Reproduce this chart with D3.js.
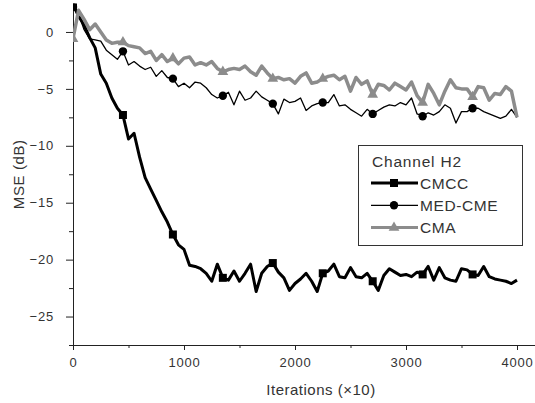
<!DOCTYPE html>
<html>
<head>
<meta charset="utf-8">
<script src="https://cdn.jsdelivr.net/npm/d3@7"></script>
<style>
  body { margin: 0; background: #fff; }
  svg { display: block; font-family: 'Liberation Sans', Arial, sans-serif; }
  .axis text { fill: #333; font-size: 13px; letter-spacing: 0.8px; }
  .axis path, .axis line { stroke: #222; }
</style>
</head>
<body>
<svg id="chart"></svg>
<script>
// X-Axis: Iterations (x10), sampled every 50
// Y-Axis: MSE in dB
const iterations = d3.range(0, 4001, 50);

const cmcc = [
  2.4, 1.4, 0.6, -0.5, -1.4, -3.7, -4.5, -5.8, -6.7, -7.3,
  -9.4, -8.9, -11.0, -12.8, -13.8, -14.8, -15.8, -16.7, -17.8, -18.7,
  -19.1, -20.5, -20.6, -20.8, -21.2, -21.9, -20.4, -21.6, -21.8, -21.0,
  -21.9, -21.2, -20.4, -22.8, -21.2, -20.6, -20.3, -21.1, -21.6, -22.7,
  -22.1, -21.7, -21.2, -21.9, -22.8, -21.2, -21.0, -20.4, -21.5, -21.6,
  -20.7, -21.5, -21.6, -21.2, -21.9, -22.7, -21.4, -20.8, -21.1, -21.4,
  -21.3, -21.5, -21.1, -21.3, -20.6, -21.8, -20.7, -21.6, -21.8, -21.9,
  -20.8, -20.9, -21.3, -21.4, -20.6, -21.5, -21.7, -21.8, -21.9, -22.1,
  -21.8,
];

const medCme = [
  2.2, 1.6, 0.2, -0.6, -0.7, -0.8, -1.6, -2.0, -2.4, -1.7,
  -2.9, -2.6, -3.0, -3.3, -3.1, -3.9, -3.4, -4.0, -4.1, -4.8,
  -4.5, -4.9, -4.4, -4.5, -4.9, -5.5, -5.8, -5.6, -5.3, -6.4,
  -5.2, -6.0, -5.8, -5.2, -5.7, -6.0, -6.3, -7.2, -5.9, -6.2,
  -6.1, -5.8, -6.9, -6.5, -6.3, -6.2, -6.2, -5.5, -6.5, -6.4,
  -6.8, -7.1, -7.4, -6.8, -7.2, -6.9, -6.6, -6.4, -6.5, -6.2,
  -6.4, -5.8, -7.2, -7.4, -7.1, -7.3, -7.0, -6.4, -6.7, -8.0,
  -7.0, -7.0, -6.7, -6.7, -7.0, -7.2, -7.4, -7.6, -7.4, -6.8,
  -7.5,
];

const cma = [
  -0.6, 1.9, 1.1, 0.2, 0.7, 0.0, -0.7, -1.0, -0.9, -0.9,
  -1.2, -1.3, -1.4, -1.9, -1.7, -2.5, -2.0, -2.6, -2.3, -2.8,
  -2.3, -2.2, -2.9, -2.7, -2.9, -2.6, -3.2, -3.5, -3.3, -3.2,
  -3.3, -3.0, -3.5, -3.8, -3.0, -3.6, -4.1, -4.0, -4.2, -4.1,
  -4.5, -3.9, -3.6, -4.5, -4.4, -4.1, -3.9, -3.8, -4.2, -3.9,
  -5.2, -4.0, -4.6, -4.3, -5.5, -4.6, -4.7, -5.1, -4.5, -4.8,
  -5.1, -4.4, -5.6, -6.2, -4.6, -5.4, -6.4, -5.2, -4.2, -4.9,
  -5.0, -5.0, -5.7, -4.8, -4.9, -6.0, -5.4, -5.5, -4.8, -5.2,
  -7.5,
];

const seriesNames = ['CMCC', 'MED-CME', 'CMA'];
const legendTitle = 'Channel H2';
const xTicks = [0, 1000, 2000, 3000, 4000];
const xMinorTicks = [500, 1500, 2500, 3500];
const yTicks = [0, -5, -10, -15, -20, -25];
const yMinorTicks = [-2.5, -7.5, -12.5, -17.5, -22.5, -27.5];

class MseChart {
  constructor(_config) {
    this.config = {
      parentElement: _config.parentElement,
      containerWidth: 535,
      containerHeight: 403,
      left: 73,
      xEnd: 517, // pixel of 4000
      top: 3.5,
      bottom: 345,
    };
    this.initVis();
  }

  initVis() {
    const vis = this;
    const c = vis.config;

    vis.xScale = d3.scaleLinear()
      .domain([0, 4000])
      .range([c.left, c.xEnd]);

    vis.yScale = d3.scaleLinear()
      .domain([-27.5, 2.5])
      .range([c.bottom, c.top]);

    vis.svg = d3.select(c.parentElement)
      .attr('width', c.containerWidth)
      .attr('height', c.containerHeight);

    vis.svg.append('defs').append('clipPath')
      .attr('id', 'plot-clip')
      .append('rect')
      .attr('x', c.left)
      .attr('y', c.top)
      .attr('width', c.containerWidth - c.left)
      .attr('height', c.bottom - c.top);

    vis.series = [
      { name: seriesNames[0], values: cmcc, color: '#000', width: 3, symbol: d3.symbolSquare, size: 64 },
      { name: seriesNames[1], values: medCme, color: '#000', width: 1.3, symbol: d3.symbolCircle, size: 55 },
      { name: seriesNames[2], values: cma, color: '#8c8c8c', width: 3.5, symbol: d3.symbolTriangle, size: 50 },
    ];

    vis.renderVis();
  }

  renderVis() {
    const vis = this;
    const c = vis.config;

    // axes (domain continues to the right edge)
    const xAxisScale = vis.xScale.copy().domain([0, 4200])
      .range([c.left, vis.xScale(4200)]);

    vis.svg.append('g')
      .attr('class', 'axis x-axis')
      .attr('transform', `translate(0,${c.bottom})`)
      .call(d3.axisBottom(xAxisScale).tickValues(xTicks).tickSize(5).tickSizeOuter(0)
        .tickPadding(8).tickFormat(d3.format('d')));

    vis.svg.append('g')
      .attr('class', 'axis x-minor')
      .attr('transform', `translate(0,${c.bottom})`)
      .call(d3.axisBottom(xAxisScale).tickValues(xMinorTicks).tickSize(3).tickFormat(''))
      .call((g) => g.select('.domain').remove());

    vis.svg.append('g')
      .attr('class', 'axis y-axis')
      .attr('transform', `translate(${c.left},0)`)
      .call(d3.axisLeft(vis.yScale).tickValues(yTicks).tickSize(7).tickSizeOuter(0).tickPadding(12));

    vis.svg.append('g')
      .attr('class', 'axis y-minor')
      .attr('transform', `translate(${c.left},0)`)
      .call(d3.axisLeft(vis.yScale).tickValues(yMinorTicks).tickSize(4).tickFormat(''))
      .call((g) => g.select('.domain').remove());

    // axis titles
    vis.svg.append('text')
      .attr('transform', `translate(24,${(c.top + c.bottom) / 2}) rotate(-90)`)
      .attr('text-anchor', 'middle')
      .attr('fill', '#333')
      .style('font-size', '15px')
      .style('letter-spacing', '0.6px')
      .text('MSE (dB)');

    vis.svg.append('text')
      .attr('x', 321)
      .attr('y', 395)
      .attr('text-anchor', 'middle')
      .attr('fill', '#333')
      .style('font-size', '15px')
      .style('letter-spacing', '0.5px')
      .text('Iterations (\u00d710)');

    const line = d3.line()
      .x((d, i) => vis.xScale(iterations[i]))
      .y((d) => vis.yScale(d));

    const marks = vis.svg.append('g').attr('clip-path', 'url(#plot-clip)');

    vis.series.forEach((s) => {
      marks.append('path')
        .datum(s.values)
        .attr('fill', 'none')
        .attr('stroke', s.color)
        .attr('stroke-width', s.width)
        .attr('stroke-linejoin', 'round')
        .attr('d', line);

      // a marker every 450 iterations
      marks.selectAll(null)
        .data(s.values.filter((d, i) => i % 9 === 0).map((d, k) => [iterations[k * 9], d]))
        .join('path')
        .attr('transform', (d) => `translate(${vis.xScale(d[0])},${vis.yScale(d[1])})`)
        .attr('fill', s.color)
        .attr('d', d3.symbol().type(s.symbol).size(s.size));
    });

    // legend
    const legend = vis.svg.append('g');
    legend.append('rect')
      .attr('x', 358.5)
      .attr('y', 145.5)
      .attr('width', 164)
      .attr('height', 100)
      .attr('fill', '#fff')
      .attr('stroke', '#333');

    legend.append('text')
      .attr('x', 372)
      .attr('y', 167)
      .attr('fill', '#333')
      .style('font-size', '15.5px')
      .style('letter-spacing', '0.8px')
      .text(legendTitle);

    const rows = legend.selectAll('.legend-row')
      .data(vis.series)
      .join('g')
      .attr('class', 'legend-row')
      .attr('transform', (d, i) => `translate(0,${183 + i * 22.3})`);

    rows.append('line')
      .attr('x1', 371)
      .attr('x2', 418)
      .attr('stroke', (d) => d.color)
      .attr('stroke-width', (d) => Math.min(d.width, 3));

    rows.append('path')
      .attr('transform', 'translate(394,0)')
      .attr('fill', (d) => d.color)
      .attr('d', (d) => d3.symbol().type(d.symbol).size(d.size)());

    rows.append('text')
      .attr('x', 420)
      .attr('dy', '0.36em')
      .attr('fill', '#333')
      .style('font-size', '15.5px')
      .style('letter-spacing', '0.6px')
      .text((d) => d.name);
  }
}

new MseChart({ parentElement: '#chart' });
</script>
</body>
</html>
